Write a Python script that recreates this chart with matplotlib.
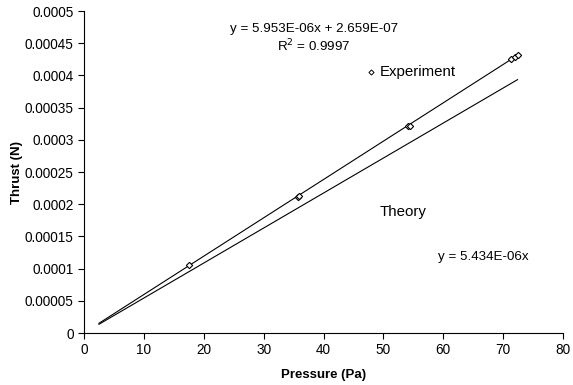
import matplotlib.pyplot as plt
import numpy as np
from matplotlib.ticker import FuncFormatter, MultipleLocator

plt.rcParams["font.family"] = ["Liberation Sans", "DejaVu Sans"]

# measured points (Pa, N)
pressure = [17.6, 35.7, 35.9, 54.1, 54.5, 71.3, 71.9, 72.4]
thrust = [0.000106, 0.000211, 0.000213, 0.000321, 0.000322, 0.000425, 0.000429, 0.000432]

# fitted and theoretical slopes
fit_slope = 5.953e-06
fit_icpt = 2.659e-07
theory_slope = 5.434e-06
line_x = [2.5, 72.4]

fig = plt.figure(figsize=(5.73, 3.85), dpi=100)
ax = fig.add_axes([0.1466, 0.135, 0.836, 0.8364])

xs = np.array(line_x)
ax.plot(xs, fit_slope * xs + fit_icpt, color="black", linewidth=0.8)
ax.plot(xs, theory_slope * xs, color="black", linewidth=0.8)
ax.plot(pressure, thrust, linestyle="none", marker="D", markersize=3.2,
        markerfacecolor="white", markeredgecolor="black", markeredgewidth=0.8)

ax.set_xlim(0, 80)
ax.set_ylim(0, 0.0005)
ax.xaxis.set_major_locator(MultipleLocator(10))
ax.yaxis.set_major_locator(MultipleLocator(0.00005))
ax.yaxis.set_major_formatter(
    FuncFormatter(lambda v, _: f"{v:.5f}".rstrip("0").rstrip(".")))
ax.tick_params(direction="out", length=4, width=0.8, labelsize=9.8, colors="black")
for side in ("top", "right"):
    ax.spines[side].set_visible(False)
for side in ("left", "bottom"):
    ax.spines[side].set_linewidth(0.8)

ax.set_xlabel("Pressure (Pa)", fontsize=9.5, fontweight="bold", labelpad=8)
ax.set_ylabel("Thrust (N)", fontsize=9.5, fontweight="bold", labelpad=1)

# annotations, placed in data coords
ax.text(38.4, 0.000472, "y = 5.953E-06x + 2.659E-07", fontsize=9.6, ha="center", va="center")
ax.text(38.4, 0.000446, "R$^2$ = 0.9997", fontsize=9.6, ha="center", va="center")
ax.plot([47.9], [0.000406], linestyle="none", marker="D", markersize=2.6,
        markerfacecolor="white", markeredgecolor="black", markeredgewidth=0.7)
ax.text(49.4, 0.000406, "Experiment", fontsize=10.8, ha="left", va="center")
ax.text(49.4, 0.000188, "Theory", fontsize=10.8, ha="left", va="center")
ax.text(59.1, 0.000118, "y = 5.434E-06x", fontsize=9.6, ha="left", va="center")

fig.savefig("out.png", dpi=100, facecolor="white")
